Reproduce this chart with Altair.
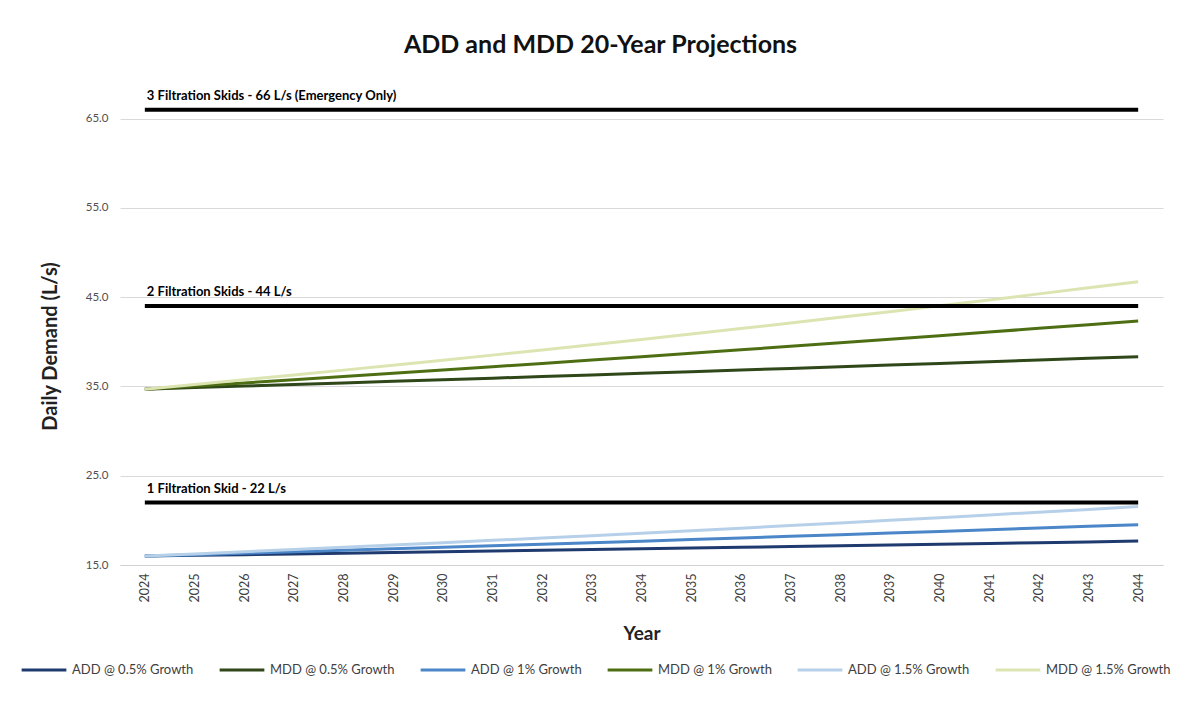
import altair as alt
import pandas as pd

# Projection years (category axis)
years = list(range(2024, 2045))

# Average / maximum day demand projections (L/s) at three growth rates
add_05 = [16.00, 16.08, 16.16, 16.24, 16.32, 16.40, 16.49, 16.57, 16.65, 16.73, 16.82,
          16.90, 16.99, 17.07, 17.16, 17.24, 17.33, 17.42, 17.50, 17.59, 17.68]
mdd_05 = [34.70, 34.87, 35.05, 35.22, 35.40, 35.58, 35.75, 35.93, 36.11, 36.29, 36.48,
          36.66, 36.84, 37.02, 37.21, 37.40, 37.58, 37.77, 37.96, 38.15, 38.34]
add_10 = [16.00, 16.16, 16.32, 16.48, 16.65, 16.82, 16.98, 17.15, 17.33, 17.50, 17.67,
          17.85, 18.03, 18.21, 18.39, 18.58, 18.76, 18.95, 19.14, 19.33, 19.52]
mdd_10 = [34.70, 35.05, 35.40, 35.75, 36.11, 36.47, 36.83, 37.20, 37.58, 37.95, 38.33,
          38.71, 39.10, 39.49, 39.89, 40.29, 40.69, 41.10, 41.51, 41.92, 42.34]
add_15 = [16.00, 16.24, 16.48, 16.73, 16.98, 17.24, 17.50, 17.76, 18.02, 18.29, 18.57,
          18.85, 19.13, 19.42, 19.71, 20.00, 20.30, 20.61, 20.92, 21.23, 21.55]
mdd_15 = [34.70, 35.22, 35.75, 36.29, 36.83, 37.38, 37.94, 38.51, 39.09, 39.68, 40.27,
          40.87, 41.49, 42.11, 42.74, 43.38, 44.03, 44.69, 45.37, 46.05, 46.74]

series_names = ["ADD @ 0.5% Growth", "MDD @ 0.5% Growth", "ADD @ 1% Growth",
                "MDD @ 1% Growth", "ADD @ 1.5% Growth", "MDD @ 1.5% Growth"]
series_values = [add_05, mdd_05, add_10, mdd_10, add_15, mdd_15]
series_colors = ["#1F3A6E", "#2F4719", "#4A86C8", "#4E6E14", "#B7D0EA", "#DCE5B2"]
series_widths = [3, 3, 2.5, 3, 2, 2]

# Filtration capacity thresholds (L/s)
capacity_values = [66, 44, 22]
capacity_labels = ["3 Filtration Skids - 66 L/s (Emergency Only)",
                   "2 Filtration Skids - 44 L/s",
                   "1 Filtration Skid - 22 L/s"]

y_ticks = [15, 25, 35, 45, 55, 65]

rows = []
for name, vals in zip(series_names, series_values):
    for yr, v in zip(years, vals):
        rows.append({"Year": yr, "Demand": v, "Series": name})
demand = pd.DataFrame(rows)

cap_rows = []
for val, lab in zip(capacity_values, capacity_labels):
    for yr in (years[0], years[-1]):
        cap_rows.append({"Year": yr, "Demand": val, "Label": lab})
capacity = pd.DataFrame(cap_rows)
cap_text = pd.DataFrame({"Year": [years[0]] * len(capacity_values),
                         "Demand": capacity_values, "Label": capacity_labels})

x_enc = alt.X("Year:O",
              scale=alt.Scale(type="point", padding=0.5),
              axis=alt.Axis(title="Year", labelAngle=270, labelAlign="right",
                            labelBaseline="middle", labelPadding=8, ticks=False,
                            labelFontSize=12.5, labelColor="#404040",
                            titleFontSize=19, titleFontWeight="bold", titleColor="#222222",
                            titleY=68, titleBaseline="middle",
                            domainColor="#D0D0D0", grid=False))
y_scale = alt.Scale(domain=[15, 70], nice=False, zero=False)
y_axis = alt.Axis(title="Daily Demand (L/s)", values=y_ticks, format=".1f",
                  ticks=False, domain=False, labelPadding=12, labelFontSize=11.5,
                  labelColor="#505050", gridColor="#D9D9D9", gridWidth=1,
                  titleFontSize=20, titleFontWeight="bold", titleColor="#222222",
                  titleX=-70, titleY=272, titleAngle=270, titleAlign="center",
                  titleBaseline="middle")

lines = alt.Chart(demand).mark_line(strokeCap="butt").encode(
    x=x_enc,
    y=alt.Y("Demand:Q", scale=y_scale, axis=y_axis),
    color=alt.Color("Series:N",
                    scale=alt.Scale(domain=series_names, range=series_colors),
                    sort=series_names,
                    legend=alt.Legend(title=None, orient="none", direction="horizontal",
                                      legendX=-100, legendY=572, symbolType="stroke",
                                      symbolSize=2000, symbolStrokeWidth=3,
                                      labelFontSize=13, labelColor="#404040",
                                      labelOffset=4, columnPadding=19, labelLimit=220)),
    strokeWidth=alt.StrokeWidth("Series:N",
                                scale=alt.Scale(domain=series_names, range=series_widths),
                                legend=None),
    order=alt.Order("Year:O"),
)

cap_lines = alt.Chart(capacity).mark_line(color="black", strokeWidth=4).encode(
    x=alt.X("Year:O"),
    y=alt.Y("Demand:Q"),
    detail="Label:N",
)

cap_labels = alt.Chart(cap_text).mark_text(
    align="left", baseline="bottom", dx=2, dy=-7,
    fontSize=13, fontWeight="bold", color="black"
).encode(
    x=alt.X("Year:O"),
    y=alt.Y("Demand:Q"),
    text="Label:N",
)

chart = alt.layer(lines, cap_lines, cap_labels).properties(
    width=1043, height=491,
    autosize=alt.AutoSizeParams(type="none"),
    padding={"left": 120, "top": 74, "right": 20, "bottom": 138},
    title=alt.Title("ADD and MDD 20-Year Projections", fontSize=25, fontWeight="bold",
                    color="#111111", anchor="middle", offset=16, dx=-41),
    background="white",
).configure(font="Lato").configure_view(stroke=None).configure_axisX(grid=False)

chart.save("out.html", embed_options={"renderer": "svg", "actions": False})
